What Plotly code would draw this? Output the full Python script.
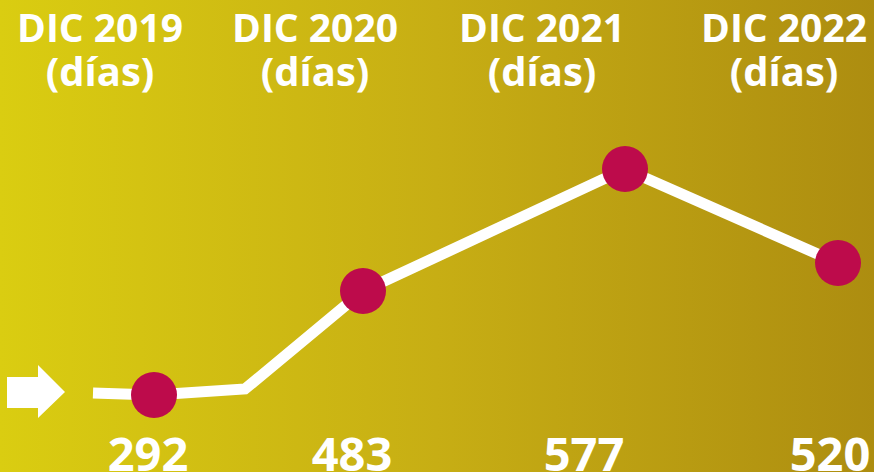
import base64
import plotly.graph_objects as go

# periods and days shown
periodos = ["DIC 2019", "DIC 2020", "DIC 2021", "DIC 2022"]
unidad = ["(días)", "(días)", "(días)", "(días)"]
dias = [292, 483, 577, 520]

# where each element sits along the strip
x_cabecera = [100, 315, 542, 784]
x_punto = [154, 363, 625, 838]
x_valor = [148, 352, 584, 830]
nivel = [77, 181, 303, 209]

# the white trend line (has one extra bend before 2020)
trazo_x = [93, 154, 245, 363, 625, 838]
trazo_y = [79, 77, 83, 181, 303, 209]

W, H = 874, 472
FONT = "Open Sans"

# yellow -> olive gold background as an svg gradient
svg = f'''<svg xmlns="http://www.w3.org/2000/svg" width="{W}" height="{H}">
<defs><linearGradient id="g" x1="0" y1="0" x2="1" y2="0">
<stop offset="0" stop-color="#dacd11"/>
<stop offset="0.5" stop-color="#c7ae14"/>
<stop offset="1" stop-color="#ad8d10"/>
</linearGradient></defs>
<rect width="{W}" height="{H}" fill="url(#g)"/></svg>'''
fondo = "data:image/svg+xml;base64," + base64.b64encode(svg.encode()).decode()

fig = go.Figure()

fig.add_trace(go.Scatter(
    x=trazo_x, y=trazo_y, mode='lines',
    line=dict(color='white', width=11),
    hoverinfo='skip'))

fig.add_trace(go.Scatter(
    x=x_punto, y=nivel, mode='markers',
    marker=dict(size=46, color='#bd0b4b', line=dict(width=0)),
    text=[str(d) for d in dias], hoverinfo='text'))

fig.add_trace(go.Scatter(
    x=x_cabecera, y=[440] * len(periodos), mode='text',
    text=periodos, textposition='middle center',
    textfont=dict(family=FONT, size=39, color='white', weight=700),
    cliponaxis=False, hoverinfo='skip'))

fig.add_trace(go.Scatter(
    x=x_cabecera, y=[396] * len(unidad), mode='text',
    text=unidad, textposition='middle center',
    textfont=dict(family=FONT, size=40, color='white', weight=700),
    cliponaxis=False, hoverinfo='skip'))

fig.add_trace(go.Scatter(
    x=x_valor, y=[13] * len(dias), mode='text',
    text=[str(d) for d in dias], textposition='middle center',
    textfont=dict(family=FONT, size=47, color='white', weight=700),
    cliponaxis=False, hoverinfo='skip'))

# arrow on the left edge
fig.add_shape(
    type='path', xref='x', yref='y',
    path='M 7 95 L 38 95 L 38 107 L 65 80 L 38 54 L 38 64 L 7 64 Z',
    fillcolor='white', line=dict(width=0), layer='above')

fig.update_layout(
    width=W, height=H,
    margin=dict(l=0, r=0, t=0, b=0, pad=0),
    paper_bgcolor='#c7ae14',
    plot_bgcolor='rgba(0,0,0,0)',
    showlegend=False,
    xaxis=dict(range=[0, W], visible=False, fixedrange=True),
    yaxis=dict(range=[0, H], visible=False, fixedrange=True),
    images=[dict(source=fondo, xref='paper', yref='paper', x=0, y=1,
                 sizex=1, sizey=1, sizing='stretch', layer='below')],
)

# page has a default 8px body margin, drop it so the figure fills the window
fig.write_html("out.html", config={'displayModeBar': False},
               post_script="document.body.style.margin='0';")
